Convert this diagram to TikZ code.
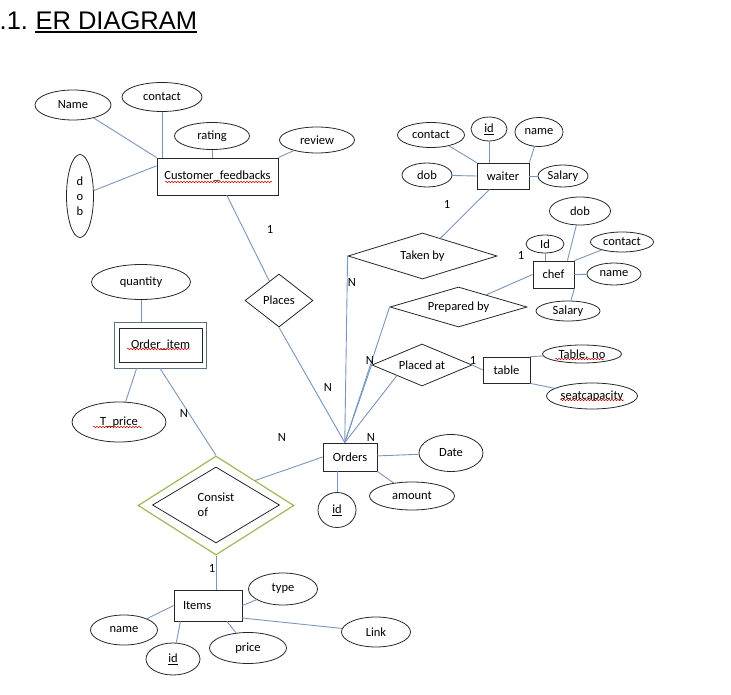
\documentclass[tikz,border=0pt]{standalone}
\usepackage{fontspec}
\setmainfont{Carlito}
\newfontfamily\titlefont{Liberation Sans}
\usepackage{tikz}
\usetikzlibrary{shapes.geometric,decorations.pathmorphing}
\definecolor{linkblue}{RGB}{120,150,190}
\definecolor{dblgreen}{RGB}{155,187,89}
\definecolor{slate}{RGB}{90,110,130}

\begin{document}
\begin{tikzpicture}[x=1pt, y=-1pt,
    font=\fontsize{12.5}{15}\selectfont,
    entity/.style={rectangle, draw=black!85, line width=0.8pt, inner sep=0pt},
    attr/.style={ellipse, draw=black!85, line width=0.8pt, inner sep=0pt, align=center},
    rel/.style={diamond, draw=black!85, line width=0.8pt, inner sep=0pt},
    conn/.style={draw=linkblue, line width=0.9pt},
    squig/.style={draw=red!80!black, line width=0.5pt, decorate,
        decoration={snake, amplitude=0.7pt, segment length=3pt}}]

\useasboundingbox (0,0) rectangle (731,695);

% Titolo
\node[inner sep=0pt, anchor=base west, font=\titlefont\fontsize{25.5}{30}\selectfont] (titnum) at (-0.5,30) {.1.};
\node[inner sep=0pt, anchor=base west, font=\titlefont\fontsize{25.5}{30}\selectfont] (tittxt) at (35.4,30) {ER DIAGRAM};
\draw[line width=2pt] ([yshift=-2.5pt]tittxt.base west) -- ([yshift=-2.5pt]tittxt.base east); % sottolineatura

% Entita'
\node[entity, minimum width=121pt, minimum height=37pt] (cf) at (217.5,176.5) {Customer\_feedbacks};
\node[entity, minimum width=52pt, minimum height=26pt] (waiter) at (503,176) {waiter};
\node[entity, minimum width=41pt, minimum height=27pt] (chef) at (553.5,274.5) {chef};
\node[entity, minimum width=47pt, minimum height=26pt] (table) at (506.5,370) {table};
\node[entity, minimum width=54pt, minimum height=28pt] (orders) at (350,457) {Orders};
\node[entity, minimum width=68pt, minimum height=31pt, text width=50pt, inner xsep=9pt, align=left] (items) at (208,605.5) {Items};
\node[entity, draw=slate, minimum width=92pt, minimum height=46pt] (orditem) at (160,345) {}; % entita' debole
\node[entity, minimum width=83pt, minimum height=34pt] (orditemin) at (160.5,345) {Order\_item};

% Relazioni
\node[rel, minimum width=68pt, minimum height=53pt, aspect=1.28] (places) at (279,300.5) {Places};
\node[rel, minimum width=149pt, minimum height=46pt, aspect=3.2] (takenby) at (422.5,256) {Taken by};
\node[rel, minimum width=137pt, minimum height=40pt, aspect=3.4] (prepby) at (458.5,307) {Prepared by};
\node[rel, minimum width=100pt, minimum height=42pt, aspect=2.4] (placedat) at (422,365) {Placed at};
\node[rel, draw=dblgreen, line width=1.2pt, minimum width=156pt, minimum height=99pt, aspect=1.58] (consist) at (216,505.5) {}; % relazione identificante
\node[rel, minimum width=127pt, minimum height=76pt, aspect=1.67, align=left] (consistin) at (216,505) {Consist\\of};

% Attributi
\foreach \nm/\cx/\cy/\w/\h/\txt in {
    cfname/73/105/76pt/30pt/Name, cfcont/162/97/80pt/29pt/contact,
    rating/212/136/75pt/27pt/rating, review/317/140/75pt/26pt/review,
    cfdob/80/196/27pt/83pt/{d\\o\\b},
    wcont/431/135/67pt/25pt/contact, wid/489/129/36pt/24pt/{\underline{id}},
    wname/539/132/48pt/29pt/name, wdob/427/175/50pt/24pt/dob,
    wsal/563/176/50pt/22pt/Salary,
    cdob/580/211/61pt/28pt/dob, cid/545/244/38pt/18pt/Id,
    ccont/622/242/63pt/20pt/contact, cname/614/274/54pt/22pt/name,
    csal/568/311/64pt/20pt/Salary,
    tno/582/354/79pt/18pt/Table. no, seat/592/396/91pt/26pt/seatcapacity,
    date/451/453/64pt/37pt/Date, amount/412/496/85pt/28pt/amount,
    oid/337/510/38pt/35pt/{\underline{id}},
    qty/141/282/99pt/35pt/quantity, tprice/119/422/94pt/40pt/T\_price,
    type/283/589/69pt/32pt/type, iname/124/630/67pt/30pt/name,
    iid/173/659/54pt/32pt/{\underline{id}}, price/248/648/77pt/31pt/price,
    ilink/376/632/69pt/30pt/Link} {
    \node[attr, minimum width=\w, minimum height=\h] (\nm) at (\cx,\cy) {\txt};
}

% Collegamenti
\foreach \a/\b in {
    cfname/cf.north west, cfcont/cfcont |- cf.north, rating/rating |- cf.north,
    review/cf.north east, cfdob/cf.170, cf/places, places.south/orders.110,
    wcont/waiter.north west, wid/wid |- waiter.north, wname/waiter.north east,
    wdob/waiter.west, waiter.east/wsal, waiter/takenby, takenby.west/orders.110,
    cdob/chef.45, cid/cid |- chef.north, ccont/chef.north east, chef.east/cname,
    chef.south east/csal, chef.west/prepby, prepby.west/orders.110,
    placedat.west/orders.110, placedat.south west/orders.110,
    placedat.east/table.west, table.north east/tno, table.south east/seat,
    orders/date, orders.south east/amount, oid/oid |- orders.south,
    consist.north east/orders.west, orditem.south/consist.north,
    qty/qty |- orditem.north, orditem.225/tprice,
    consist.south/consist.south |- items.north,
    items.west/iname, items.210/iid, items.320/price, items.east/type,
    items.340/ilink} {
    \draw[conn] (\a) -- (\b);
}

% Cardinalita'
\foreach \nm/\cx/\cy/\t in {
    k1/270/229/1, k2/328/387/N, k3/447/204/1, k4/352/282/N, k5/521/255/1,
    k6/370/360/N, k7/473/360/1, k8/371/437/N, k9/282/437/N, k10/184/413/N,
    k11/212/568/1} {
    \node[inner sep=1pt] (\nm) at (\cx,\cy) {\t};
}

% Sottolineature del correttore
\draw[squig] (165,182) -- (272,182);
\draw[squig] (127,349) -- (190,349);
\draw[squig] (93,427) -- (142,427);
\draw[squig] (555,359) -- (604,359);
\draw[squig] (560,400) -- (624,400);

\end{tikzpicture}
\end{document}
